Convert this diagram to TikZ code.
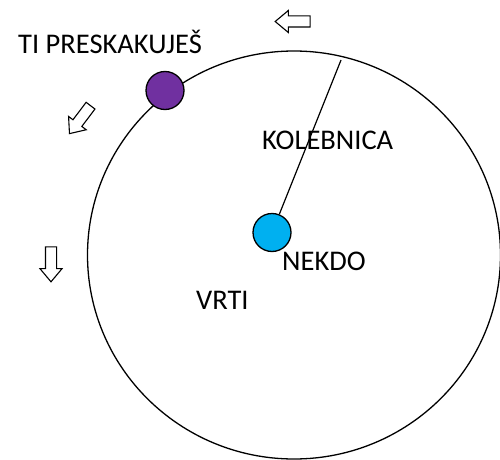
\documentclass[tikz,border=0pt]{standalone}
\usepackage{fontspec}
\setmainfont{Carlito}
\usetikzlibrary{shapes.geometric, shapes.arrows}
\usetikzlibrary{positioning}

\definecolor{ballblue}{HTML}{00B0F0}
\definecolor{ballpurple}{HTML}{7030A0}

\begin{document}
\begin{tikzpicture}[x=1pt, y=1pt]
        \tikzstyle{label} = [font=\fontsize{28.5}{34}\selectfont, inner sep=0pt, anchor=base west]
        \tikzstyle{ball} = [circle, draw=black, line width=1.3pt, minimum size=38pt, inner sep=0pt]
        \tikzstyle{turn} = [single arrow, draw=black, line width=1.1pt, minimum height=35pt, inner xsep=0pt, inner ysep=5pt, single arrow head extend=5.5pt, single arrow tip angle=80]
        \useasboundingbox (0,0) rectangle (500,459);

        % track
        \draw[line width=1.3pt] (294,204) ellipse [x radius=206.5, y radius=204];

        \node[ball, fill=ballblue] (nekdoBall) at (272,226.5) {};
        \node[ball, fill=ballpurple] (tiBall) at (165,368.5) {};
        \coordinate (ropeEnd) at (341,399);

        %rope
        \draw[line width=1.2pt] (nekdoBall) -- (ropeEnd);

        \node[label] (ti) at (18,406) {TI PRESKAKUJEŠ};
        \node[label] (kolebnica) at (262,310) {KOLEBNICA};
        \node[label] (nekdo) at (282,189) {NEKDO};
        \node[label] (vrti) at (196,150) {VRTI};

        %direction
        \node[turn, rotate=180] (turnTop) at (296,437.5) {};
        \node[turn, rotate=233] (turnLeft) at (82,342) {};
        \node[turn, rotate=270] (turnDown) at (51,198) {};
    \end{tikzpicture}
\end{document}
